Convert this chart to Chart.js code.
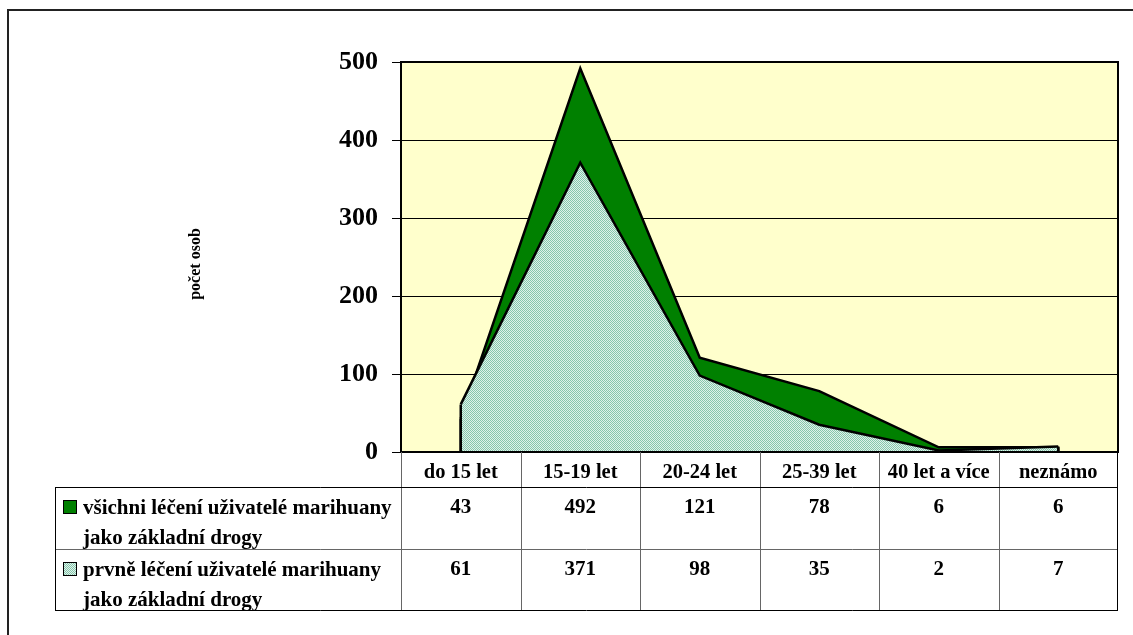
<!DOCTYPE html>
<html>
<head>
<meta charset="utf-8">
<script src="https://cdn.jsdelivr.net/npm/chart.js@4/dist/chart.umd.min.js"></script>
<style>
html, body { margin: 0; padding: 0; background: #fff; }
</style>
</head>
<body>
<canvas id="areaChart" width="1133" height="635"></canvas>
<script>
// data
var categories = ['do 15 let', '15-19 let', '20-24 let', '25-39 let', '40 let a více', 'neznámo'];
var allTreated = [43, 492, 121, 78, 6, 6];
var firstTreated = [61, 371, 98, 35, 2, 7];
var allTreatedName = ['všichni léčení uživatelé marihuany', 'jako základní drogy'];
var firstTreatedName = ['prvně léčení uživatelé marihuany', 'jako základní drogy'];
var yTicks = [0, 100, 200, 300, 400, 500];
var yTitle = 'počet osob';

var serif = "'Times New Roman', 'Liberation Serif', serif";
var canvas = document.getElementById('areaChart');
var ctx = canvas.getContext('2d');

// light teal dotted fill like the original
var tile = document.createElement('canvas');
tile.width = 2; tile.height = 2;
var t = tile.getContext('2d');
t.fillStyle = '#dff2ea'; t.fillRect(0, 0, 2, 2);
t.fillStyle = '#86c6ac'; t.fillRect(0, 0, 1, 1); t.fillRect(1, 1, 1, 1);
var dotted = ctx.createPattern(tile, 'repeat');

var tablePlugin = {
    id: 'dataTable',
    beforeDraw: function (chart) {
        var c = chart.ctx, a = chart.chartArea;
        c.save();
        c.fillStyle = '#ffffcc';
        c.fillRect(a.left, a.top, a.right - a.left, a.bottom - a.top);
        c.restore();
    },
    afterDatasetDraw: function (chart, args) {
        // closing vertical edges of each area
        var pts = args.meta.data;
        var y0 = chart.scales.y.getPixelForValue(0);
        var c = chart.ctx;
        c.save();
        c.strokeStyle = '#000';
        c.lineWidth = 2.5;
        c.beginPath();
        c.moveTo(pts[0].x, y0); c.lineTo(pts[0].x, pts[0].y);
        c.moveTo(pts[pts.length - 1].x, pts[pts.length - 1].y); c.lineTo(pts[pts.length - 1].x, y0);
        c.stroke();
        c.restore();
    },
    afterDraw: function (chart) {
        var c = chart.ctx, a = chart.chartArea, x = chart.scales.x;
        c.save();
        // outer frame (top and left only visible)
        c.strokeStyle = '#222';
        c.lineWidth = 2;
        c.beginPath();
        c.moveTo(8, 635); c.lineTo(8, 10); c.lineTo(1133, 10);
        c.stroke();
        // plot frame
        c.strokeStyle = '#000';
        c.strokeRect(a.left, a.top, a.right - a.left, a.bottom - a.top);

        // y title
        c.fillStyle = '#000';
        c.font = 'bold 16px ' + serif;
        c.textAlign = 'center';
        c.textBaseline = 'middle';
        c.translate(196, 264);
        c.rotate(-Math.PI / 2);
        c.fillText(yTitle, 0, 0);
        c.setTransform(1, 0, 0, 1, 0, 0);

        // table grid
        var edges = [a.left];
        for (var i = 0; i < categories.length - 1; i++) {
            edges.push((x.getPixelForValue(i) + x.getPixelForValue(i + 1)) / 2);
        }
        edges.push(a.right);
        var tableLeft = 55;
        var r1 = a.bottom + 35, r2 = r1 + 62, r3 = r2 + 61;
        c.lineWidth = 1;
        c.strokeStyle = '#666';
        c.beginPath();
        for (var j = 1; j < edges.length - 1; j++) {
            c.moveTo(Math.round(edges[j]) + 0.5, a.bottom); c.lineTo(Math.round(edges[j]) + 0.5, r3);
        }
        c.moveTo(tableLeft, r2 + 0.5); c.lineTo(a.right, r2 + 0.5);
        c.moveTo(a.left + 0.5, a.bottom); c.lineTo(a.left + 0.5, r3);
        c.stroke();
        c.strokeStyle = '#000';
        c.beginPath();
        c.moveTo(tableLeft, r1 + 0.5); c.lineTo(a.right, r1 + 0.5);
        c.moveTo(tableLeft, r3 + 0.5); c.lineTo(a.right, r3 + 0.5);
        c.moveTo(tableLeft + 0.5, r1); c.lineTo(tableLeft + 0.5, r3);
        c.moveTo(a.right - 0.5, a.bottom); c.lineTo(a.right - 0.5, r3 + 1);
        c.stroke();

        // rows: legend key, name and values
        var rows = [
            { top: r1, name: allTreatedName, values: allTreated, fill: '#008000' },
            { top: r2, name: firstTreatedName, values: firstTreated, fill: dotted }
        ];
        c.font = 'bold 21px ' + serif;
        c.textBaseline = 'middle';
        rows.forEach(function (row) {
            c.fillStyle = row.fill;
            c.fillRect(63, row.top + 13, 13, 13);
            c.strokeStyle = '#000';
            c.lineWidth = 1;
            c.strokeRect(63.5, row.top + 13.5, 13, 13);
            c.fillStyle = '#000';
            c.textAlign = 'left';
            c.fillText(row.name[0], 83, row.top + 22);
            c.fillText(row.name[1], 83, row.top + 52);
            c.textAlign = 'center';
            row.values.forEach(function (v, k) {
                c.fillText(String(v), x.getPixelForValue(k), row.top + 21);
            });
        });
        c.restore();
    }
};

var areaChart = new Chart(ctx, {
    type: 'line',
    data: {
        labels: categories,
        datasets: [{
            label: allTreatedName.join(' '),
            data: allTreated,
            fill: 'origin',
            backgroundColor: '#008000',
            borderColor: '#000',
            borderWidth: 2.5,
            pointRadius: 0,
            tension: 0,
            order: 2
        }, {
            label: firstTreatedName.join(' '),
            data: firstTreated,
            fill: 'origin',
            backgroundColor: dotted,
            borderColor: '#000',
            borderWidth: 2.5,
            pointRadius: 0,
            tension: 0,
            order: 1
        }]
    },
    options: {
        responsive: false,
        animation: false,
        events: [],
        layout: { padding: { left: 0, top: 62, right: 15, bottom: 148 } },
        plugins: {
            legend: { display: false },
            tooltip: { enabled: false }
        },
        scales: {
            x: {
                offset: true,
                grid: { display: false },
                border: { display: false },
                ticks: {
                    color: '#000',
                    font: { family: serif, size: 20.5, weight: 'bold' },
                    padding: 0,
                    autoSkip: false,
                    maxRotation: 0
                },
                afterFit: function (s) { s.height = 35; }
            },
            y: {
                min: 0,
                max: 500,
                afterBuildTicks: function (s) {
                    s.ticks = yTicks.map(function (v) { return { value: v }; });
                },
                grid: { color: '#000', lineWidth: 1, tickLength: 9, drawTicks: true },
                border: { color: '#000', width: 2 },
                ticks: {
                    color: '#000',
                    font: { family: serif, size: 26, weight: 'bold' },
                    padding: 14
                },
                afterFit: function (s) { s.width = 401; }
            }
        }
    },
    plugins: [tablePlugin]
});
</script>
</body>
</html>
